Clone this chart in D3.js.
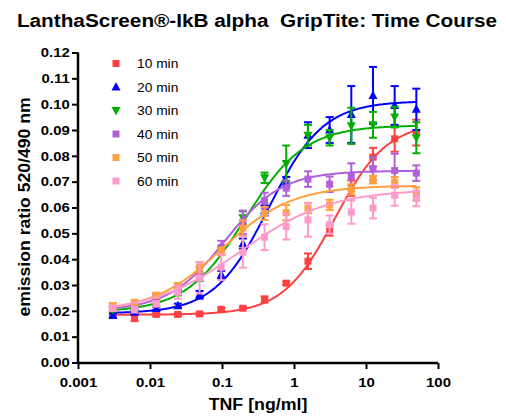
<!DOCTYPE html>
<html><head><meta charset="utf-8">
<script src="https://cdn.jsdelivr.net/npm/d3@7"></script>
<style>body{margin:0;background:#fff}svg{display:block;font-family:"Liberation Sans",Arial,sans-serif}</style>
</head><body><svg id="c" width="506" height="417"></svg>
<script>
const conc = [0.00305, 0.0061, 0.0122, 0.0244, 0.0488, 0.0977, 0.195, 0.39, 0.78, 1.5625, 3.125, 6.25, 12.5, 25, 50];
const seriesNames = ["10 min", "20 min", "30 min", "40 min", "50 min", "60 min"];
const v10 = [0.019, 0.0175, 0.0186, 0.0186, 0.0188, 0.0206, 0.021, 0.0244, 0.0307, 0.0392, 0.0511, 0.0675, 0.0795, 0.0866, 0.089];
const e10 = [0.0008, 0.0015, 0.0006, 0.0005, 0.0005, 0.0005, 0.0005, 0.0012, 0.0006, 0.003, 0.002, 0.003, 0.0036, 0.005, 0.005];
const v20 = [0.0182, 0.0195, 0.0209, 0.022, 0.0262, 0.034, 0.046, 0.0588, 0.0698, 0.088, 0.090, 0.096, 0.1034, 0.0995, 0.098];
const e20 = [0.0008, 0.0006, 0.0006, 0.0008, 0.0015, 0.0015, 0.002, 0.002, 0.002, 0.005, 0.005, 0.011, 0.011, 0.0075, 0.008];
const v30 = [0.0205, 0.021, 0.023, 0.027, 0.033, 0.0434, 0.056, 0.0715, 0.077, 0.088, 0.087, 0.0916, 0.092, 0.095, 0.087];
const e30 = [0.0008, 0.0008, 0.001, 0.001, 0.0015, 0.0015, 0.0025, 0.002, 0.007, 0.004, 0.003, 0.007, 0.005, 0.004, 0.006];
const v40 = [0.021, 0.022, 0.0253, 0.029, 0.035, 0.0446, 0.0543, 0.0627, 0.0675, 0.071, 0.069, 0.0721, 0.075, 0.0743, 0.0733];
const e40 = [0.0008, 0.0008, 0.001, 0.0015, 0.002, 0.0025, 0.0045, 0.003, 0.003, 0.003, 0.003, 0.005, 0.0045, 0.0065, 0.003];
const v50 = [0.022, 0.0233, 0.026, 0.0298, 0.0369, 0.043, 0.052, 0.0577, 0.058, 0.0598, 0.061, 0.067, 0.0708, 0.0698, 0.0653];
const e50 = [0.001, 0.0008, 0.001, 0.001, 0.002, 0.0015, 0.003, 0.0025, 0.003, 0.002, 0.002, 0.002, 0.0015, 0.002, 0.0025];
const v60 = [0.021, 0.0204, 0.0227, 0.0272, 0.0327, 0.0369, 0.0427, 0.0485, 0.0526, 0.0552, 0.0534, 0.0582, 0.0598, 0.0647, 0.0635];
const e60 = [0.001, 0.001, 0.001, 0.0025, 0.006, 0.005, 0.006, 0.005, 0.005, 0.0065, 0.0035, 0.0045, 0.004, 0.004, 0.003];
// four-parameter logistic fit parameters
const fitBottom = [0.0185, 0.019, 0.0195, 0.020, 0.0195, 0.019];
const fitTop = [0.093, 0.1012, 0.0918, 0.0742, 0.0685, 0.067];
const fitEC50 = [3.7, 0.45, 0.21, 0.11, 0.10, 0.18];
const fitHill = [1.2, 1.15, 1.05, 1.1, 0.9, 0.7];
const xTicks = [0.001, 0.01, 0.1, 1, 10, 100];
const xTickLabels = ["0.001", "0.01", "0.1", "1", "10", "100"];
const yTicks = [0, 0.01, 0.02, 0.03, 0.04, 0.05, 0.06, 0.07, 0.08, 0.09, 0.10, 0.11, 0.12];

const values = [v10, v20, v30, v40, v50, v60];
const errs = [e10, e20, e30, e40, e50, e60];
const colors = ["#ff4040", "#0000ff", "#00b000", "#b25fdc", "#ffa040", "#ff9acb"];
const shapes = ["square", "up", "down", "square", "square", "square"];

const svg = d3.select("#c");
const x = d3.scaleLog().domain([0.001, 100]).range([78, 438]);
const y = d3.scaleLinear().domain([0, 0.12]).range([362.5, 52.5]);

function widen(sel, f) {
  sel.each(function () {
    const w = this.getComputedTextLength();
    this.setAttribute("textLength", w * f);
    this.setAttribute("lengthAdjust", "spacingAndGlyphs");
  });
}

const title = svg.append("text").attr("x", 257).attr("y", 26.5).attr("text-anchor", "middle")
  .attr("font-size", 18.7).attr("font-weight", "bold").style("white-space", "pre")
  .text("LanthaScreen®-IkB alpha  GripTite: Time Course");
widen(title, 1.11);

function marker(g, shape, cx, cy, color) {
  if (shape === "square") {
    g.append("rect").attr("x", cx - 3.5).attr("y", cy - 3.5).attr("width", 7).attr("height", 7).attr("fill", color);
  } else if (shape === "up") {
    g.append("path").attr("d", `M${cx},${cy - 5}L${cx + 4.5},${cy + 3.5}L${cx - 4.5},${cy + 3.5}Z`).attr("fill", color);
  } else {
    g.append("path").attr("d", `M${cx},${cy + 5}L${cx + 4.5},${cy - 3.5}L${cx - 4.5},${cy - 3.5}Z`).attr("fill", color);
  }
}

const plot = svg.append("g");
values.forEach((vals, s) => {
  const g = plot.append("g");
  const col = colors[s];
  const lc = d3.range(0, 201).map(i => Math.pow(10, Math.log10(conc[0]) + i * (Math.log10(conc[conc.length - 1]) - Math.log10(conc[0])) / 200));
  const fy = c => fitBottom[s] + (fitTop[s] - fitBottom[s]) / (1 + Math.pow(fitEC50[s] / c, fitHill[s]));
  g.append("path").datum(lc).attr("fill", "none").attr("stroke", col).attr("stroke-width", 2)
    .attr("d", d3.line().x(c => x(c)).y(c => y(fy(c))));
  vals.forEach((v, i) => {
    const cx = x(conc[i]), e = errs[s][i];
    const y1 = y(v + e), y2 = y(v - e);
    g.append("line").attr("x1", cx).attr("x2", cx).attr("y1", y1).attr("y2", y2).attr("stroke", col).attr("stroke-width", 2);
    [y1, y2].forEach(yy => g.append("line").attr("x1", cx - 4).attr("x2", cx + 4).attr("y1", yy).attr("y2", yy).attr("stroke", col).attr("stroke-width", 2));
    marker(g, shapes[s], cx, y(v), col);
  });
});

// axes
const xAxis = svg.append("g").attr("transform", "translate(0,363)")
  .call(d3.axisBottom(x).tickValues(xTicks).tickFormat((d, i) => xTickLabels[i]).tickSize(6).tickSizeOuter(0));
const yAxis = svg.append("g").attr("transform", "translate(78,0)")
  .call(d3.axisLeft(y).tickValues(yTicks).tickFormat(d3.format(".2f")).tickSize(6).tickSizeOuter(0));
[xAxis, yAxis].forEach(a => {
  a.select(".domain").attr("stroke", "#000").attr("stroke-width", 2.5);
  a.selectAll(".tick line").attr("stroke", "#000").attr("stroke-width", 2);
  a.selectAll("text").attr("font-family", "Liberation Sans, Arial, sans-serif").attr("font-size", 13.5).attr("font-weight", "bold").attr("fill", "#000");
});
xAxis.select(".domain").attr("d", "M78,0H438");
yAxis.select(".domain").attr("d", "M0,52.5V363");
xAxis.selectAll("text").attr("dy", "1.12em");
yAxis.selectAll("text").attr("dx", "0.05em");
widen(xAxis.selectAll("text"), 1.11);
widen(yAxis.selectAll("text"), 1.1);

const xt = svg.append("text").attr("x", 258).attr("y", 410).attr("text-anchor", "middle")
  .attr("font-size", 16).attr("font-weight", "bold").text("TNF [ng/ml]");
widen(xt, 1.11);
const yt = svg.append("text").attr("transform", "translate(30,207) rotate(-90)").attr("text-anchor", "middle")
  .attr("font-size", 16).attr("font-weight", "bold").text("emission ratio 520/490 nm");
widen(yt, 1.1);

// legend
const lg = svg.append("g");
seriesNames.forEach((n, s) => {
  const ly = 63.5 + s * 23.5;
  marker(lg, shapes[s], 116, ly, colors[s]);
  const t = lg.append("text").attr("x", 137).attr("y", ly + 4.5).attr("font-size", 12.2).attr("fill", "#000").text(n);
  widen(t, 1.13);
});
</script></body></html>
